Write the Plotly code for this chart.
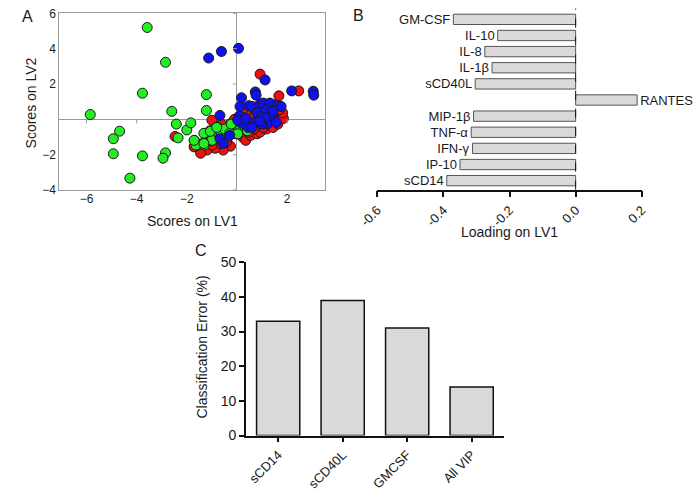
import plotly.graph_objects as go

# ---------- Panel A data (scores) ----------
green_x = [-3.58, -2.85, -3.77, -5.85, -2.6, -1.22, -1.22, -4.68, -4.93, -4.93, -3.77, -2.85, -2.95, -4.27,
           -2.42, -2.35, -2.0, -1.84, -1.7, -1.58, -1.3, -1.27, -1.08, -1.0, -0.8, -0.69, -0.5, -0.35, 0.03,
           0.15, 0.27, -1.0, -0.62, -0.49, -0.29, 0.03, 0.22, 0.41, -0.23, -1.32, -1.06, -0.81, -1.64, -1.32, -1.71]
green_y = [5.2, 3.23, 1.48, 0.27, 0.45, 1.4, 0.5, -0.67, -1.1, -1.95, -2.07, -1.9, -2.2, -3.33,
           -0.27, -1.05, -0.6, -0.2, -1.2, -1.46, -1.46, -0.82, -0.65, -1.2, -0.45, -0.82, -0.6, -1.0, -0.7,
           -0.45, -0.1, -1.19, -0.82, -0.55, -0.79, -0.82, -0.27, -0.64, -0.27, -0.79, -0.68, -0.46, -1.46, -1.37, -1.19]

red_x = [0.92, 2.46, 1.67, -1.0, -0.29, -0.17, -0.42, -0.17, -0.55, -0.26, -0.55, -0.87, -1.19, -1.45, -1.71,
         -2.47, 0.22, 0.35, 0.54, 0.8, 0.92, 1.18, 1.44, 1.63, 1.69, 1.85, 1.82, 1.69, 1.5, 0.6, 0.35, 0.28,
         0.73, 1.05, 0.03, -0.04, -0.62, -0.1, 0.92, 1.31, 1.44, 0.67, 0.47, -0.42, -0.68, -1.0, -1.38]
red_y = [2.56, 1.61, 1.33, -0.05, -0.27, -0.27, -0.6, -0.73, -0.91, -1.52, -1.74, -1.64, -1.74, -1.92, -1.56,
         -0.97, -1.0, -1.19, -0.91, -0.82, -0.73, -0.55, -0.46, -0.27, 0.0, 0.05, 0.37, 0.55, 0.82, 0.18, 0.37, 0.64,
         0.55, -0.46, -0.55, -0.82, -0.27, 0.0, 0.0, -0.1, 0.08, -0.55, -0.73, -1.28, -1.37, -1.46, -1.37]

blue_x = [-1.13, -0.62, 0.06, 1.12, 0.73, 0.76, 2.18, 3.04, 3.06, 0.18, 0.12, 0.47, 0.6, 0.92, 1.05, 1.31,
          1.63, 1.76, 0.8, 0.99, 1.18, 1.37, 1.2, 0.99, 0.67, 0.44, 0.15, 0.09, 0.03, 0.35, -0.68, -0.68,
          -0.55, -0.29, 1.57, 1.12, 0.92, 1.44, 0.6]
blue_y = [3.47, 3.84, 4.02, 2.23, 1.55, 1.37, 1.61, 1.59, 1.37, 1.22, 0.73, 0.77, 0.73, 0.86, 0.92, 0.92,
          0.79, 0.73, 0.37, 0.18, 0.55, 0.24, -0.27, -0.27, -0.18, -0.46, -0.18, 0.18, -0.05, 0.05, 0.22, -1.1,
          -1.37, -0.91, -0.18, 0.08, -0.1, 0.46, -0.46]

a_xticks = [-6, -4, -2, 2]
a_yticks = [-4, -2, 2, 4, 6]

# ---------- Panel B data (loadings) ----------
b_labels = ["GM-CSF", "IL-10", "IL-8", "IL-1β", "sCD40L", "RANTES", "MIP-1β", "TNF-α", "IFN-γ", "IP-10", "sCD14"]
b_values = [-0.37, -0.236, -0.275, -0.253, -0.304, 0.186, -0.309, -0.316, -0.312, -0.35, -0.39]
b_xticks = [-0.6, -0.4, -0.2, 0.0, 0.2]
b_xticklabels = ["-0.6", "-0.4", "-0.2", "0.0", "0.2"]

# ---------- Panel C data (classification error) ----------
c_cats = ["sCD14", "sCD40L", "GMCSF", "All VIP"]
c_values = [33, 39, 31, 14]
c_yticks = [0, 10, 20, 30, 40, 50]

FONT = "Liberation Sans, Arial, sans-serif"
TXT = "#1a1a1a"
W, H = 700, 499

def px_x(p):
    return p / W

def px_y(p):
    return 1 - p / H

fig = go.Figure()

mk = dict(size=10, line=dict(color="#1a1a1a", width=1))
fig.add_trace(go.Scatter(x=red_x, y=red_y, mode="markers", marker=dict(color="#ee1111", **mk),
                         xaxis="x", yaxis="y", showlegend=False))
fig.add_trace(go.Scatter(x=green_x, y=green_y, mode="markers", marker=dict(color="#22ee22", **mk),
                         xaxis="x", yaxis="y", showlegend=False))
fig.add_trace(go.Scatter(x=blue_x, y=blue_y, mode="markers", marker=dict(color="#1111ee", **mk),
                         xaxis="x", yaxis="y", showlegend=False))

fig.add_trace(go.Bar(x=b_values, y=b_labels, orientation="h", text=b_labels, textposition="outside",
                     constraintext="none",
                     textfont=dict(family=FONT, size=13, color=TXT), cliponaxis=False, width=0.64,
                     marker=dict(color="#d9d9d9", line=dict(color="#555555", width=1)),
                     xaxis="x2", yaxis="y2", showlegend=False))

fig.add_trace(go.Bar(x=c_cats, y=c_values, width=0.67,
                     marker=dict(color="#d9d9d9", line=dict(color="#111111", width=1.5)),
                     xaxis="x3", yaxis="y3", showlegend=False))

tickfont_a = dict(family=FONT, size=12, color=TXT)
fig.update_layout(
    width=W, height=H, margin=dict(l=0, r=0, t=0, b=0),
    paper_bgcolor="white", plot_bgcolor="white",
    font=dict(family=FONT, color=TXT),
    xaxis=dict(domain=[px_x(41), px_x(317)], range=[-7.08, 3.5], tickvals=a_xticks,
               showgrid=False, zeroline=True, zerolinecolor="#9a9a9a", zerolinewidth=1,
               showline=True, mirror=True, linecolor="#9a9a9a", linewidth=1, ticks="",
               tickfont=tickfont_a, anchor="y", ticklabelstandoff=-2),
    yaxis=dict(domain=[px_y(188), px_y(5)], range=[-4, 6.03], tickvals=a_yticks,
               showgrid=False, zeroline=True, zerolinecolor="#9a9a9a", zerolinewidth=1,
               showline=True, mirror=True, linecolor="#9a9a9a", linewidth=1, ticks="",
               tickfont=tickfont_a, anchor="x"),
    xaxis2=dict(domain=[px_x(371.7), px_x(646.7)], range=[-0.6, 0.2], tickvals=b_xticks,
                ticktext=b_xticklabels, tickangle=-45, showgrid=False, zeroline=False,
                showline=True, linecolor="#111111", linewidth=1.5, ticks="outside", ticklen=6,
                tickwidth=1.5, tickcolor="#111111", tickfont=dict(family=FONT, size=13, color=TXT),
                anchor="y2"),
    yaxis2=dict(domain=[px_y(187.7), px_y(2.4)], type="category", categoryorder="array",
                categoryarray=b_labels, range=[10.56, -0.56], showticklabels=False, showgrid=False,
                zeroline=False, showline=False, ticks="", anchor="x2"),
    xaxis3=dict(domain=[px_x(235), px_x(503.3)], range=[-0.5, 3.5], type="category",
                tickangle=-45, showgrid=False, zeroline=False, showline=True, linecolor="#111111",
                linewidth=1.5, ticks="outside", ticklen=5, tickwidth=1.5, tickcolor="#111111",
                tickfont=dict(family=FONT, size=13, color=TXT), anchor="y3"),
    yaxis3=dict(domain=[px_y(441.7), px_y(262.7)], range=[0, 50], tickvals=c_yticks,
                showgrid=False, zeroline=False, showline=True, linecolor="#111111", linewidth=1.5,
                ticks="outside", ticklen=5, tickwidth=1.5, tickcolor="#111111",
                tickfont=dict(family=FONT, size=14, color=TXT), anchor="x3"),
)

# dashed zero line in panel B
fig.add_shape(type="line", xref="x2", yref="y2 domain", x0=0, x1=0, y0=0, y1=1.01,
              line=dict(color="#111111", width=1, dash="dash"))

# small tick marks on the crossing zero axes of panel A
for xt in a_xticks:
    fig.add_shape(type="line", xref="x", yref="y", ysizemode="pixel", yanchor=0,
                  x0=xt, x1=xt, y0=0, y1=-4, line=dict(color="#9a9a9a", width=1))
for yt in a_yticks:
    fig.add_shape(type="line", xref="x", yref="y", xsizemode="pixel", xanchor=0,
                  x0=0, x1=-4, y0=yt, y1=yt, line=dict(color="#9a9a9a", width=1))

title_font = dict(family=FONT, size=14, color=TXT)
letter_font = dict(family=FONT, size=16, color=TXT)
ann = [
    dict(text="Scores on LV1", x=px_x(179), y=px_y(220), font=title_font),
    dict(text="Scores on LV2", x=px_x(11), y=px_y(98), font=title_font, textangle=-90),
    dict(text="Loading on LV1", x=px_x(509), y=px_y(231), font=title_font),
    dict(text="Classification Error (%)", x=px_x(189), y=px_y(350), font=title_font, textangle=-90),
    dict(text="A", x=px_x(8), y=px_y(9), font=letter_font),
    dict(text="B", x=px_x(352), y=px_y(8), font=letter_font),
    dict(text="C", x=px_x(188), y=px_y(251), font=letter_font),
]
for a in ann:
    fig.add_annotation(xref="paper", yref="paper", showarrow=False, xanchor="center", yanchor="middle", **a)

fig.write_html("out.html", config={"displayModeBar": False},
               post_script="document.body.style.margin='0';document.body.style.overflow='hidden';")
